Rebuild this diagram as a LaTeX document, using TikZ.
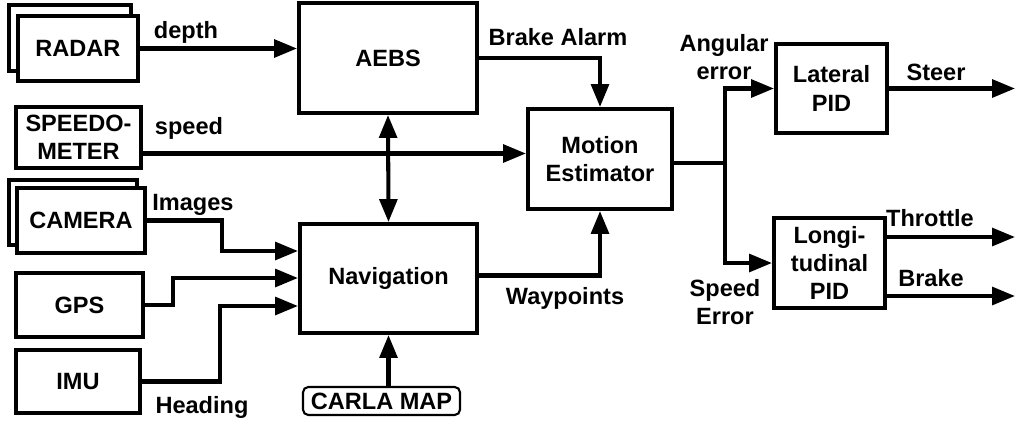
\documentclass[tikz,border=0pt]{standalone}
\usepackage{fontspec}
\setmainfont{Liberation Sans}
\usetikzlibrary{arrows.meta,calc}

\begin{document}
\begin{tikzpicture}[x=0.02cm, y=-0.02cm,
  blk/.style={draw, line width=2.3pt, fill=white, align=center, inner sep=0pt,
    font=\fontsize{13.4}{16}\selectfont\bfseries},
  lbl/.style={align=center, inner sep=0pt, font=\fontsize{13.4}{16}\selectfont\bfseries},
  flow/.style={line width=2.3pt, -{Triangle[length=13pt,width=10pt]}},
  flow2/.style={line width=2.3pt, {Triangle[length=13pt,width=10pt]}-{Triangle[length=13pt,width=10pt]}}]
  \useasboundingbox (0,0) rectangle (1016,423);
  % sensors (stacked ones get a box behind)
  \node[blk, minimum width=2.44cm, minimum height=1.32cm] (radarbk) at (70,38) {};
  \node[blk, minimum width=2.4cm, minimum height=1.3cm] (radar) at (78,48.5) {RADAR};
  \node[blk, minimum width=2.5cm, minimum height=1.22cm] (spd) at (78.5,137.5) {SPEEDO-\\METER};
  \node[blk, minimum width=2.56cm, minimum height=1.3cm] (cambk) at (73,212.5) {};
  \node[blk, minimum width=2.56cm, minimum height=1.3cm] (cam) at (81,220.5) {CAMERA};
  \node[blk, minimum width=2.54cm, minimum height=1.28cm] (gps) at (79.5,305) {GPS};
  \node[blk, minimum width=2.48cm, minimum height=1.26cm] (imu) at (78,381.5) {IMU};
  \node[blk, line width=1.2pt, rounded corners=3pt, minimum width=3.14cm, minimum height=0.56cm]
    (map) at (381.5,401) {CARLA MAP};
  % main blocks
  \node[blk, minimum width=3.56cm, minimum height=2.2cm] (aebs) at (388,58) {AEBS};
  \node[blk, minimum width=3.54cm, minimum height=2.18cm] (nav) at (388.5,278.5) {Navigation};
  \node[blk, minimum width=2.88cm, minimum height=2.0cm] (me) at (600,159) {Motion\\Estimator};
  \node[blk, minimum width=2.22cm, minimum height=1.78cm] (lat) at (831.5,88.5) {Lateral\\PID};
  \node[blk, minimum width=2.22cm, minimum height=1.8cm] (lon) at (829.5,263) {Longi-\\tudinal\\PID};
  % knees and outputs
  \coordinate (imgk) at (222,251);
  \coordinate (gpsk) at (173,278);
  \coordinate (imuk) at (220,306);
  \coordinate (split) at ($(me.east)+(51,4)$);
  \coordinate (rim) at (1015,0);
  % connectors
  \draw[flow] (radar.east) -- (radar.east -| aebs.west);
  \draw[flow] ($(spd.east)+(0,16)$) coordinate (s) -- (s -| me.west);
  \draw[flow] (cam.east) -| (imgk) -- (imgk -| nav.west);
  \draw[flow] (gps.east) -| (gpsk) -- (gpsk -| nav.west);
  \draw[flow] (imu.east) -| (imuk) -- (imuk -| nav.west);
  \draw[flow2] (aebs.south) -- (nav.north);
  \draw[flow] (map.north -| nav.south) -- (nav.south);
  \draw[flow] (aebs.east) -| (me.north);
  \draw[flow] ($(nav.east)+(0,-3)$) -| (me.south);
  \draw[line width=2.3pt] (me.east |- split) -- (split);
  \draw[flow] (split) |- (lat.west);
  \draw[flow] (split) |- (lon.west);
  \draw[flow] (lat.east) -- (lat.east -| rim);
  \draw[flow] ($(lon.east)+(0,-26)$) coordinate (t) -- (t -| rim);
  \draw[flow] ($(lon.east)+(0,33)$) coordinate (b) -- (b -| rim);
  % labels
  \node[lbl] (ldepth) at (186,32) {depth};
  \node[lbl] (lspeed) at (189,128) {speed};
  \node[lbl] (limg) at (193,205) {Images};
  \node[lbl] (lhead) at (202,407) {Heading};
  \node[lbl] (lalarm) at (558,37) {Brake Alarm};
  \node[lbl] (lway) at (565,298) {Waypoints};
  \node[lbl] (lang) at (724,57) {Angular\\error};
  \node[lbl] (lserr) at (725,302) {Speed\\Error};
  \node[lbl] (lsteer) at (936,72) {Steer};
  \node[lbl] (lthr) at (930,218) {Throttle};
  \node[lbl] (lbrk) at (931,278) {Brake};
\end{tikzpicture}
\end{document}
